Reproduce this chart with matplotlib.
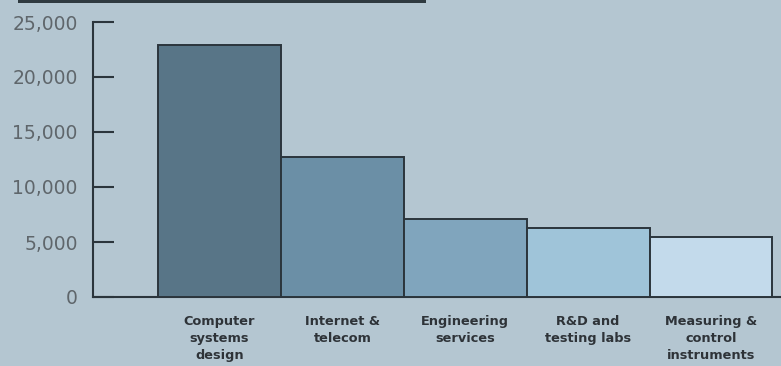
import matplotlib.pyplot as plt
from matplotlib.patches import Rectangle

categories = ['Computer\nsystems\ndesign', 'Internet &\ntelecom', 'Engineering\nservices',
              'R&D and\ntesting labs', 'Measuring &\ncontrol\ninstruments']
values = [22900, 12700, 7100, 6300, 5500]
bar_colors = ['#587587', '#6b8fa6', '#80a5bd', '#9fc4d9', '#c3daeb']
yticks = [0, 5000, 10000, 15000, 20000, 25000]
ytick_labels = ['0', '5,000', '10,000', '15,000', '20,000', '25,000']

bg = '#b4c6d1'
dark = '#2b353c'

fig = plt.figure(figsize=(7.81, 3.66), dpi=100, facecolor=bg)
ax = fig.add_axes([93 / 781, 69 / 366, 688 / 781, 275 / 366])
ax.set_facecolor(bg)

x = list(range(len(values)))
ax.bar(x, values, width=1.0, color=bar_colors, edgecolor=dark, linewidth=1.4, zorder=3)

ax.set_xlim(-1.03, 4.57)
ax.set_ylim(0, 25000)

ax.set_yticks(yticks)
ax.set_yticklabels(ytick_labels, fontsize=13.5, color='#5f666b')
ax.tick_params(axis='y', direction='in', length=15, width=1.5, color=dark, pad=11)

ax.set_xticks(x)
ax.set_xticklabels(categories, fontsize=9.3, fontweight='bold', color='#2e3338',
                   linespacing=1.4, va='top')
ax.tick_params(axis='x', length=0, pad=13)

for s in ['top', 'right']:
    ax.spines[s].set_visible(False)
for s in ['left', 'bottom']:
    ax.spines[s].set_color(dark)
    ax.spines[s].set_linewidth(1.5)

# bottom edge of the cut-off title box at the top
fig.add_artist(Rectangle((18 / 781, 1 - 3 / 366), 408 / 781, 3 / 366,
                         transform=fig.transFigure, color='#2f3a40', lw=0))

fig.savefig('out.png', dpi=100, facecolor=bg)
